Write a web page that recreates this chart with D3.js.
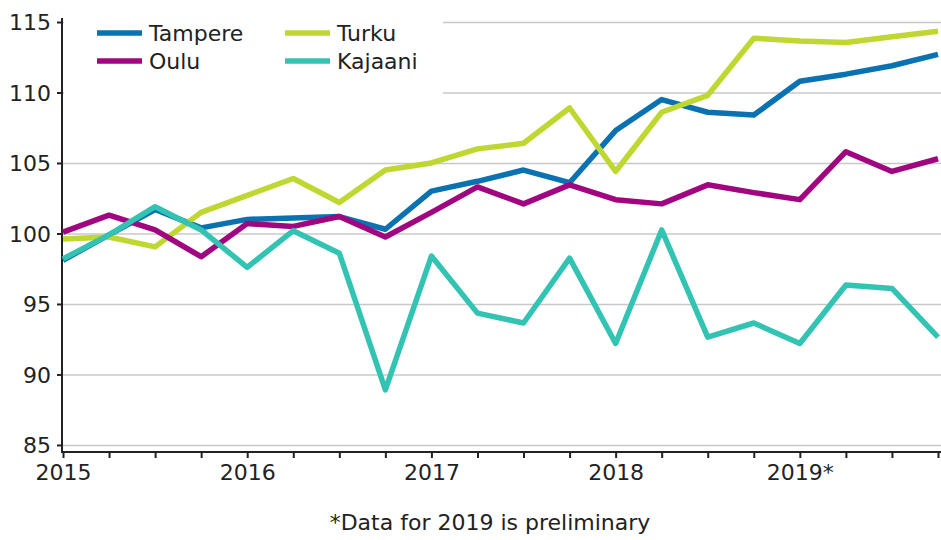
<!DOCTYPE html>
<html lang="en">
<head>
  <meta charset="UTF-8">
  <title>Index by city</title>
  <script src="https://d3js.org/d3.v7.min.js"></script>
  <style>
    body { margin: 0; background: #fff; }
    text { font-family: "DejaVu Sans", Verdana, sans-serif; fill: #222; }
    .gridlines line { stroke: #c8c8c8; stroke-width: 1.5; }
    .gridlines .domain { stroke: none; }
    .axis path, .axis line { stroke: #222; stroke-width: 2; }
  </style>
</head>
<body>
  <svg id="chart" width="941" height="540"></svg>
  <script>
    // quarters 2015Q1 .. 2019Q4
    const quarters = [];
    for (let y = 2015; y <= 2019; y++) for (let q = 1; q <= 4; q++) quarters.push(y + "Q" + q);

    const yTicks = [85, 90, 95, 100, 105, 110, 115];

    const tampere = [98.1, 99.9, 101.7, 100.4, 101.0, 101.1, 101.2, 100.3, 103.0, 103.7,
                     104.5, 103.6, 107.3, 109.5, 108.6, 108.4, 110.8, 111.3, 111.9, 112.7];
    const turku   = [99.6, 99.75, 99.05, 101.5, 102.7, 103.9, 102.2, 104.5, 105.0, 106.0,
                     106.4, 108.9, 104.4, 108.6, 109.8, 113.85, 113.65, 113.55, 113.95, 114.35];
    const oulu    = [100.1, 101.3, 100.25, 98.35, 100.7, 100.5, 101.2, 99.75, 101.5, 103.3,
                     102.1, 103.45, 102.4, 102.1, 103.45, 102.9, 102.4, 105.8, 104.4, 105.3];
    const kajaani = [98.2, 99.9, 101.9, 100.25, 97.6, 100.2, 98.6, 88.9, 98.4, 94.35,
                     93.65, 98.25, 92.2, 100.25, 92.65, 93.65, 92.2, 96.35, 96.1, 92.65];

    const series = [
      { name: "Tampere", values: tampere, color: "#0a72b0" },
      { name: "Turku",   values: turku,   color: "#bfd730" },
      { name: "Oulu",    values: oulu,    color: "#a0067f" },
      { name: "Kajaani", values: kajaani, color: "#32c3b2" }
    ];

    const svg = d3.select("#chart");
    const m = { left: 62, right: 938, top: 22, bottom: 452 };
    const fs = 22;

    const xScale = d3.scalePoint().domain(quarters).range([m.left + 1, m.right]);
    const yScale = d3.scaleLinear().domain([84.5, 115]).range([m.bottom, m.top]);

    // horizontal gridlines
    svg.append("g")
      .attr("class", "gridlines")
      .attr("transform", `translate(${m.left},0)`)
      .call(d3.axisLeft(yScale).tickValues(yTicks).tickSize(-(941 - m.left)).tickFormat(""));

    // legend background hides part of the gridlines
    svg.append("rect")
      .attr("x", m.left + 2).attr("y", 4)
      .attr("width", 443 - m.left - 2).attr("height", 97)
      .attr("fill", "#fff");

    // y axis
    const yAxis = svg.append("g")
      .attr("class", "axis")
      .attr("transform", `translate(${m.left},0)`)
      .call(d3.axisLeft(yScale).tickValues(yTicks).tickSize(5).tickSizeOuter(0));
    yAxis.select(".domain").attr("d", `M0,${m.top - 4}V${m.bottom}`);
    yAxis.selectAll("text").attr("font-size", fs).attr("x", -11).attr("dy", "0.36em");

    // x axis, a tick every quarter, a label on each year
    const xAxis = svg.append("g")
      .attr("class", "axis")
      .attr("transform", `translate(0,${m.bottom})`)
      .call(d3.axisBottom(xScale).tickSize(6).tickSizeOuter(0)
        .tickFormat(d => d.endsWith("Q1") ? d.slice(0, 4) + (d.startsWith("2019") ? "*" : "") : ""));
    xAxis.select(".domain").attr("d", `M${m.left - 1},0H941`);
    xAxis.selectAll("text").attr("font-size", fs).attr("y", 12);

    // lines
    const line = d3.line()
      .x((d, i) => xScale(quarters[i]))
      .y(d => yScale(d));

    svg.append("g").selectAll("path")
      .data(series)
      .join("path")
      .attr("fill", "none")
      .attr("stroke", d => d.color)
      .attr("stroke-width", 5.5)
      .attr("stroke-linejoin", "round")
      .attr("d", d => line(d.values));

    // legend
    const legend = svg.append("g");
    const legendPos = [[97, 33], [285, 33], [97, 61], [285, 61]];
    series.forEach((s, i) => {
      const [lx, ly] = legendPos[i];
      legend.append("line")
        .attr("x1", lx).attr("x2", lx + 45)
        .attr("y1", ly).attr("y2", ly)
        .attr("stroke", s.color).attr("stroke-width", 5.5);
      legend.append("text")
        .attr("x", lx + 52).attr("y", ly)
        .attr("dy", "0.36em")
        .attr("font-size", fs)
        .text(s.name);
    });

    // footnote
    svg.append("text")
      .attr("x", 490).attr("y", 530)
      .attr("text-anchor", "middle")
      .attr("font-size", fs)
      .text("*Data for 2019 is preliminary");
  </script>
</body>
</html>
